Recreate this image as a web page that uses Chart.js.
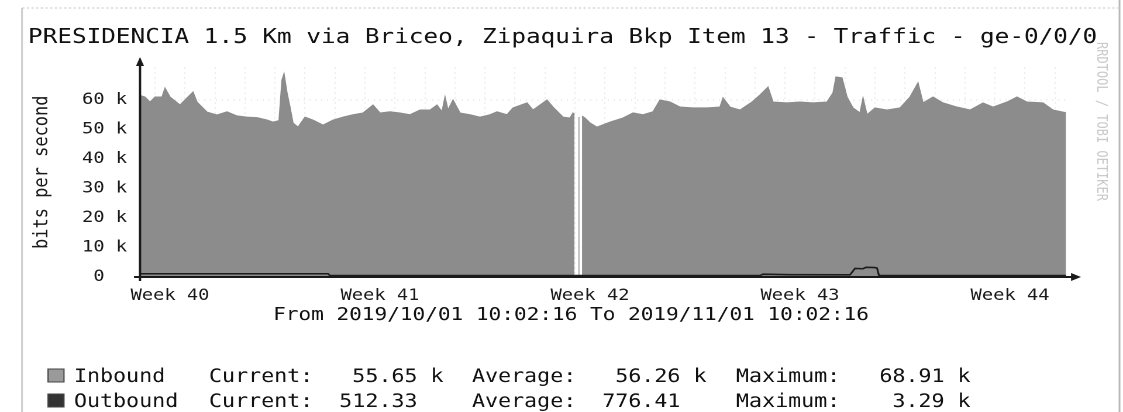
<!DOCTYPE html>
<html><head><meta charset="utf-8">
<script src="https://cdn.jsdelivr.net/npm/chart.js@4.4.1/dist/chart.umd.min.js"></script>
<style>html,body{margin:0;padding:0;background:#fff;overflow:hidden}</style>
</head><body>
<canvas id="c" width="960" height="412" style="display:block;width:1123px;height:412px"></canvas>
<script>
const titleText = 'PRESIDENCIA 1.5 Km via Briceo, Zipaquira Bkp Item 13 - Traffic - ge-0/0/0';
const rangeText = 'From 2019/10/01 10:02:16 To 2019/11/01 10:02:16';
const yAxisTitle = 'bits per second';
const watermark = 'RRDTOOL / TOBI OETIKER';

// x axis: hours since 2019/10/01 10:02:16
const weekTicks = [24, 192, 360, 528, 696];
const weekLabels = ['Week 40', 'Week 41', 'Week 42', 'Week 43', 'Week 44'];
const dayGridTicks = [12,36,60,84,108,132,156,180,204,228,252,276,300,324,348,372,396,420,444,468,492,516,540,564,588,612,636,660,684,708,732];

const yTickValues = [0, 10000, 20000, 30000, 40000, 50000, 60000];
const yTickLabels = ['0  ', '10 k', '20 k', '30 k', '40 k', '50 k', '60 k'];

const inHours = [0,4,8,12,17.6,20,24,32,37.6,42.4,45.6,53.6,61.6,69.6,77.6,85.6,93.6,101.6,106.4,111.2,113.6,115.2,117.6,120,122.4,126.4,132,138.4,146.4,154.4,162.4,170.4,178.4,186.4,192,200,208,216,224,232,237.6,241.6,244,246.4,250.4,256,264,272,280,285.6,293.6,298.4,309.6,314.4,325.6,330.4,338.4,344,346.4,347.6,348.4,350.8,351.6,352.4,353.6,356,360,365.6,376,386.4,394.4,402.4,410.4,416,424,432,442.4,453.6,464,466.4,472,480,489.6,496,502.4,506.4,517.6,528,538.4,549.6,554.4,556.8,561.6,565.6,570.4,576,578.4,581.6,588,597.6,608,616,622.4,626.4,634.4,642.4,653.6,664,674.4,682.4,693.6,701.6,709.6,722.4,730.4,740.8];
const inbound = [61500,61000,59300,61000,61000,64000,61000,58300,60700,62700,59300,55900,54900,56000,54600,54200,54000,53200,52500,53000,66800,68900,62400,57600,52200,50800,54200,53200,51500,53200,54200,55000,55600,58300,55600,56000,55600,55000,56600,56600,58300,56000,61000,56600,60000,55600,55000,54200,55000,56000,55000,57300,59000,56600,60000,57600,54200,53900,55600,55000,null,54000,54000,null,54500,53900,52200,50800,52500,53900,55600,55000,56000,60000,59300,57600,57300,57300,57600,60700,57600,56600,59300,61700,64400,59300,59000,59300,59000,59300,62400,67800,67500,61000,57300,55600,60700,55000,57300,56600,57300,61000,65800,59000,61000,59000,57600,56600,59000,57600,59300,61000,59300,59000,56600,55650];

const outHours = [0,150.4,152,496,498.4,520,568,572,578.4,580.8,588,589.6,591.2,740.8];
const outbound = [1100,1100,500,500,950,800,750,2900,2800,3290,3200,3000,500,512];

const legendNames = ['Inbound', 'Outbound'];
const legendColors = ['#9a9a9a', '#333333'];
const curVals = ['55.65', '512.33'];
const curUnits = ['k', ''];
const avgVals = ['56.26', '776.41'];
const avgUnits = ['k', ''];
const maxVals = ['68.91', '3.29'];
const maxUnits = ['k', 'k'];

const SX = 1123 / 960;
const FONT = '"DejaVu Sans Mono", monospace';
Chart.defaults.font.family = FONT;

const xTickValues = dayGridTicks.concat(weekTicks).sort((a, b) => a - b);

function seg(ctx, x1, y1, x2, y2) { ctx.beginPath(); ctx.moveTo(x1, y1); ctx.lineTo(x2, y2); ctx.stroke(); }

const deco = {
  id: 'deco',
  beforeDraw(chart) {
    const ctx = chart.ctx;
    ctx.save();
    ctx.fillStyle = '#fff';
    ctx.fillRect(0, 0, chart.width, chart.height);
    ctx.strokeStyle = '#d0d0d0'; ctx.lineWidth = 1.6;
    seg(ctx, 22 / SX, 8, 22 / SX, 412);
    ctx.setLineDash([2, 2]); ctx.strokeStyle = '#c8c8c8'; ctx.lineWidth = 1;
    seg(ctx, 22 / SX, 8, 1118 / SX, 8);
    ctx.setLineDash([]); ctx.strokeStyle = '#b8b8b8'; ctx.lineWidth = 1.5;
    seg(ctx, 1119.5 / SX, 0, 1119.5 / SX, 412);
    ctx.restore();
  },
  afterDatasetsDraw(chart) {
    const ctx = chart.ctx;
    const { left, bottom } = chart.chartArea;
    ctx.save();
    ctx.strokeStyle = '#1a1a1a'; ctx.fillStyle = '#1a1a1a'; ctx.lineWidth = 2;
    seg(ctx, left - 6 / SX, bottom, 1072 / SX, bottom);
    ctx.beginPath(); ctx.moveTo(1071 / SX, bottom - 4); ctx.lineTo(1081 / SX, bottom); ctx.lineTo(1071 / SX, bottom + 4); ctx.closePath(); ctx.fill();
    seg(ctx, left, bottom + 4, left, 66);
    ctx.beginPath(); ctx.moveTo(left - 4 / SX, 66); ctx.lineTo(left, 57); ctx.lineTo(left + 4 / SX, 66); ctx.closePath(); ctx.fill();
    ctx.restore();
  },
  afterDraw(chart) {
    const ctx = chart.ctx;
    ctx.save();
    ctx.fillStyle = '#111';
    ctx.textBaseline = 'alphabetic';
    ctx.textAlign = 'left';
    ctx.font = '20.8px ' + FONT;
    ctx.fillText(titleText, 28 / SX, 43);
    ctx.textAlign = 'center';
    ctx.font = '18px ' + FONT;
    ctx.fillText(rangeText, 571 / SX, 320);
    ctx.textAlign = 'left';
    ctx.font = '18.5px ' + FONT;
    const rows = [382, 407];
    for (let i = 0; i < legendNames.length; i++) {
      const y = rows[i];
      ctx.fillStyle = legendColors[i];
      ctx.fillRect(48 / SX, y - 13, 16 / SX, 13);
      ctx.strokeStyle = '#444'; ctx.lineWidth = 1;
      ctx.strokeRect(48 / SX, y - 13, 16 / SX, 13);
      ctx.fillStyle = '#111';
      ctx.fillText(legendNames[i], 74 / SX, y);
      ctx.fillText('Current:' + curVals[i].padStart(8) + ' ' + curUnits[i], 209 / SX, y);
      ctx.fillText('Average:' + avgVals[i].padStart(8) + ' ' + avgUnits[i], 472 / SX, y);
      ctx.fillText('Maximum:' + maxVals[i].padStart(8) + ' ' + maxUnits[i], 736 / SX, y);
    }
    ctx.translate(1097 / SX, 42);
    ctx.rotate(Math.PI / 2);
    ctx.font = '12px ' + FONT;
    ctx.fillStyle = '#c9c9c9';
    ctx.fillText(watermark, 0, 0);
    ctx.restore();
  }
};

new Chart(document.getElementById('c'), {
  type: 'line',
  data: {
    datasets: [
      { label: 'Outbound', data: outHours.map((h, i) => ({ x: h, y: outbound[i] })),
        borderColor: '#1c1c1c', borderWidth: 1.6, pointRadius: 0, fill: false, tension: 0 },
      { label: 'Inbound', data: inHours.map((h, i) => ({ x: h, y: inbound[i] })),
        borderColor: '#8c8c8c', backgroundColor: '#8c8c8c', borderWidth: 1, pointRadius: 0,
        fill: 'origin', tension: 0, spanGaps: false }
    ]
  },
  options: {
    responsive: false,
    devicePixelRatio: 2,
    animation: false,
    layout: { padding: { left: 0, right: 960 - 1070 / SX, top: 67.5, bottom: 105 } },
    plugins: { legend: { display: false }, title: { display: false }, tooltip: { enabled: false } },
    scales: {
      x: {
        type: 'linear', min: 0, max: 744,
        afterBuildTicks: s => { s.ticks = xTickValues.map(v => ({ value: v })); },
        afterFit: s => { s.height = 30; },
        grid: { color: c => (c.tick && weekTicks.includes(c.tick.value)) ? 'rgba(0,0,0,0)' : '#dedede', lineWidth: 1, drawTicks: false },
        border: { display: false, dash: [1, 4] },
        ticks: { autoSkip: false, maxRotation: 0, minRotation: 0, padding: 9, color: '#1a1a1a',
          font: { size: 16 },
          callback: v => { const k = weekTicks.indexOf(v); return k >= 0 ? weekLabels[k] : ''; } }
      },
      y: {
        min: 0, max: 71000,
        afterBuildTicks: s => { s.ticks = yTickValues.map(v => ({ value: v })); },
        afterFit: s => { s.width = 140 / SX; },
        grid: { color: '#dedede', lineWidth: 1, drawTicks: false },
        border: { display: false, dash: [1, 4] },
        ticks: { padding: 11, color: '#1a1a1a', font: { size: 16 },
          callback: (v, i) => yTickLabels[yTickValues.indexOf(v)] },
        title: { display: true, text: yAxisTitle, color: '#1a1a1a', font: { size: 17 }, padding: { top: 26, bottom: 0 } }
      }
    }
  },
  plugins: [deco]
});
</script>
</body></html>
